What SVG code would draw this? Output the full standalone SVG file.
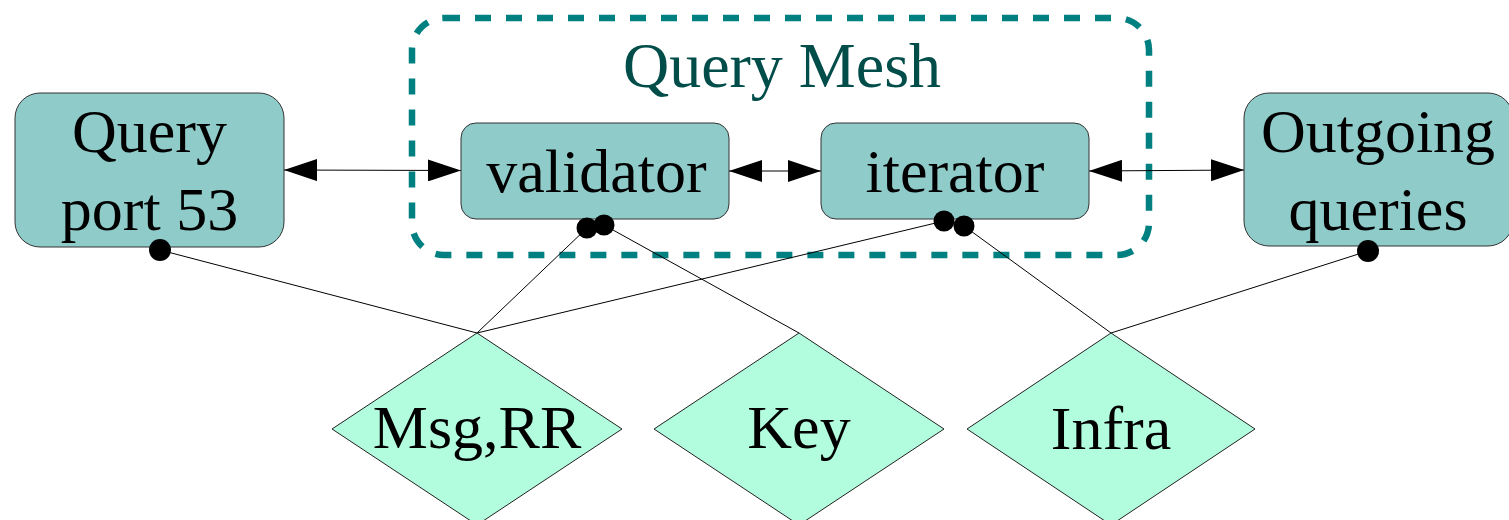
<svg xmlns="http://www.w3.org/2000/svg" width="1509" height="520" viewBox="0 0 1509 520">
<defs>
<marker id="ah" viewBox="0 0 33 22" refX="33" refY="11" markerWidth="33" markerHeight="22" markerUnits="userSpaceOnUse" orient="auto-start-reverse">
<path d="M0,0 L33,11 L0,22 Z" fill="#000"/>
</marker>
<style>
.box{fill:#8ecbc9;stroke:#333;stroke-width:1}
.dia{fill:#b3fddf;stroke:#222;stroke-width:1}
.t{font-family:'Liberation Serif','DejaVu Serif',serif;font-size:62px;fill:#000;text-anchor:middle}
.title{font-family:'Liberation Serif','DejaVu Serif',serif;font-size:64px;fill:#004d4a;text-anchor:middle}
.ln{stroke:#000;stroke-width:1;fill:none}
.ar{stroke:#000;stroke-width:1;fill:none;marker-start:url(#ah);marker-end:url(#ah)}
.dot{fill:#000}
</style>
</defs>
<rect width="1509" height="520" fill="#fff"/>
<g id="mesh">
<rect x="412" y="18" width="737" height="237" rx="32" ry="32" fill="none" stroke="#008080" stroke-width="6.5" stroke-dasharray="16 15"/>
<text class="title" font-family="Liberation Serif, serif" x="782" y="87">Query Mesh</text>
</g>
<g id="connectors">
<line class="ar" x1="284" y1="170" x2="461" y2="170.5"/>
<line class="ar" x1="729" y1="171" x2="821" y2="171"/>
<line class="ar" x1="1089" y1="171" x2="1244" y2="170"/>
<line class="ln" x1="160" y1="250" x2="477" y2="333"/>
<line class="ln" x1="587" y1="228" x2="477" y2="333"/>
<line class="ln" x1="944" y1="221" x2="477" y2="333"/>
<line class="ln" x1="604" y1="225" x2="799" y2="333"/>
<line class="ln" x1="964" y1="226" x2="1111" y2="333"/>
<line class="ln" x1="1368" y1="251" x2="1111" y2="333"/>
</g>
<g id="query-port">
<rect class="box" x="15" y="93" width="269" height="154" rx="25" ry="25"/>
<text class="t" x="149.5" y="152">Query</text>
<text class="t" x="149.5" y="230">port 53</text>
<circle class="dot" cx="160" cy="250" r="11"/>
</g>
<g id="validator">
<rect class="box" x="461" y="123" width="268" height="96" rx="15" ry="15"/>
<text class="t" x="596.5" y="192">validator</text>
<circle class="dot" cx="587" cy="228" r="10.5"/>
<circle class="dot" cx="604" cy="225" r="10.5"/>
</g>
<g id="iterator">
<rect class="box" x="821" y="123" width="268" height="96" rx="15" ry="15"/>
<text class="t" x="955" y="192">iterator</text>
<circle class="dot" cx="944" cy="221" r="10.5"/>
<circle class="dot" cx="964" cy="226" r="10.5"/>
</g>
<g id="outgoing">
<rect class="box" x="1244" y="93" width="269" height="153" rx="25" ry="25"/>
<text class="t" x="1378" y="152">Outgoing</text>
<text class="t" x="1378" y="230">queries</text>
<circle class="dot" cx="1368" cy="251" r="11"/>
</g>
<g id="msgrr">
<polygon class="dia" points="477,333 622,429 477,525 332,429"/>
<text class="t" x="477" y="448">Msg,RR</text>
</g>
<g id="key">
<polygon class="dia" points="799,333 944,429 799,525 654,429"/>
<text class="t" x="799" y="448">Key</text>
</g>
<g id="infra">
<polygon class="dia" points="1111,333 1255,429 1111,525 967,429"/>
<text class="t" x="1111" y="449">Infra</text>
</g>
</svg>
